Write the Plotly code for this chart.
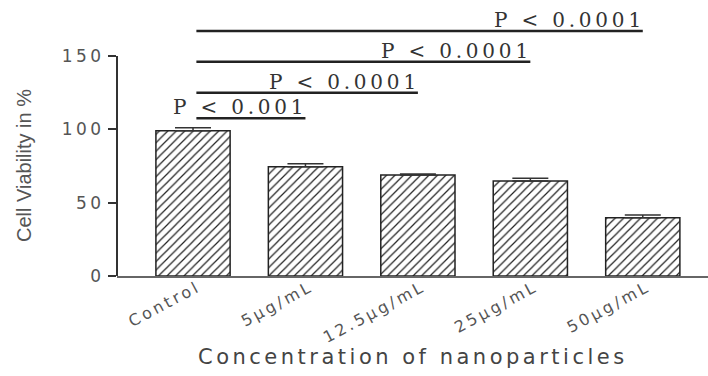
import plotly.graph_objects as go

categories = ["Control", "5μg/mL", "12.5μg/mL", "25μg/mL", "50μg/mL"]
viability = [99, 74.5, 68.8, 64.8, 39.8]
errors = [2.0, 2.0, 0.7, 1.8, 1.8]
y_ticks = [0, 50, 100, 150]
sig_targets = [1, 2, 3, 4]
sig_heights = [107.5, 125, 146, 167]
sig_labels = ["P < 0.001", "P < 0.0001", "P < 0.0001", "P < 0.0001"]

SANS = "DejaVu Sans, Arial, sans-serif"
YSANS = "Liberation Sans, Arial, sans-serif"
SERIF = "DejaVu Serif, serif"

def spaced(t, ls):
    return f'<span style="letter-spacing:{ls}px">{t}</span>'

fig = go.Figure()
fig.add_trace(go.Bar(
    x=list(range(len(categories))),
    y=viability,
    width=0.66,
    marker=dict(
        color="white",
        line=dict(color="#222", width=1.5),
        pattern=dict(shape="/", fgcolor="#222", bgcolor="white", size=6, solidity=0.2, fillmode="replace"),
    ),
    error_y=dict(type="data", array=errors, arrayminus=[0] * len(errors), symmetric=False,
                 color="#333", thickness=1.5, width=18),
    showlegend=False,
))

# y axis line only up to the last tick
fig.add_shape(type="line", xref="paper", yref="y", x0=0, x1=0, y0=min(y_ticks), y1=max(y_ticks),
              line=dict(color="#333", width=2))

for tgt, h, lab in zip(sig_targets, sig_heights, sig_labels):
    fig.add_shape(type="line", xref="x", yref="y", x0=0.03, x1=tgt, y0=h, y1=h,
                  line=dict(color="#222", width=2.5))
    fig.add_annotation(x=tgt, y=h, xref="x", yref="y", text=spaced(lab, 3.8), showarrow=False,
                       xanchor="right", yanchor="bottom", xshift=4, yshift=-3,
                       font=dict(family=SERIF, size=20, color="#333"))

fig.add_annotation(text="Cell Viability in %", textangle=-90, xref="paper", yref="y",
                   x=0, y=(min(y_ticks) + max(y_ticks)) / 2, xshift=-106, showarrow=False,
                   font=dict(family=YSANS, size=20, color="#555"))
fig.add_annotation(text=spaced("Concentration of nanoparticles", 3.5), xref="paper", yref="paper",
                   x=0.5, y=0, yanchor="middle", yshift=-81, showarrow=False,
                   font=dict(family=SANS, size=21, color="#444"))

fig.update_layout(
    width=708, height=376, autosize=False,
    margin=dict(l=117, r=0, t=12, b=100),
    plot_bgcolor="white", paper_bgcolor="white",
    bargap=0.34,
)
fig.update_xaxes(
    range=[-0.676, 4.58], tickmode="array", tickvals=list(range(len(categories))),
    ticktext=[spaced(c, 3) for c in categories], tickangle=-28,
    ticklabelstandoff=-6, ticklabelshift=5,
    showline=True, linecolor="#666", linewidth=2, ticks="", showgrid=False, zeroline=False,
    tickfont=dict(family=SANS, size=16, color="#555"),
)
fig.update_yaxes(
    range=[0, 180], tickmode="array", tickvals=y_ticks,
    ticktext=[spaced(str(v), 3.5) for v in y_ticks],
    showline=False, ticks="outside", ticklen=8, tickwidth=2, tickcolor="#333",
    showgrid=False, zeroline=False,
    tickfont=dict(family=SANS, size=17, color="#555"),
)

fig.write_html("out.html")
